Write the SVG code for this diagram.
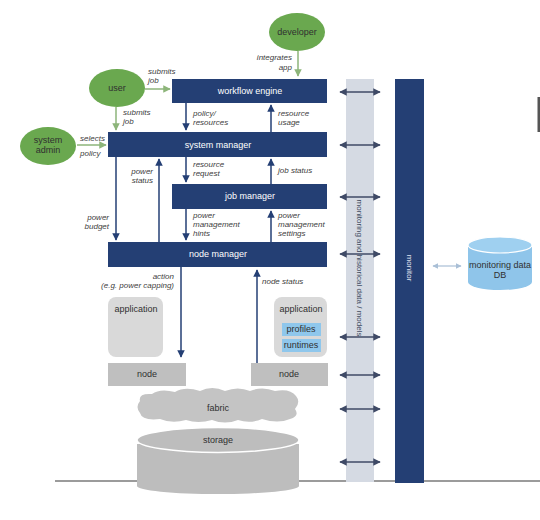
<svg xmlns="http://www.w3.org/2000/svg" width="540" height="520" viewBox="0 0 540 520">
<style>
.navy{fill:#243f74}
.actor{fill:#6aa84f}
.lbl{font-family:"Liberation Sans",Arial,sans-serif;font-size:8px;font-style:italic;fill:#404040}
.wt{font-family:"Liberation Sans",Arial,sans-serif;font-size:9px;fill:#ffffff;text-anchor:middle}
.dt{font-family:"Liberation Sans",Arial,sans-serif;font-size:9px;fill:#303030;text-anchor:middle}
.ln{stroke:#243f74;stroke-width:1.5;fill:none}
.gl{stroke:#8db57a;stroke-width:1.5;fill:none}
.dbl{stroke:#3f4a66;stroke-width:1.5;fill:none}
.gray{fill:#bfbfbf}
.app{fill:#d9d9d9}
.blue{fill:#8fc7ec}
</style>
<defs>
<marker id="a" viewBox="0 0 10 10" refX="9" refY="5" markerWidth="5" markerHeight="5" orient="auto-start-reverse"><path d="M0,0L10,5L0,10z" fill="#243f74"/></marker>
<marker id="g" viewBox="0 0 10 10" refX="9" refY="5" markerWidth="5" markerHeight="5" orient="auto-start-reverse"><path d="M0,0L10,5L0,10z" fill="#8db57a"/></marker>
<marker id="d" viewBox="0 0 10 10" refX="9" refY="5" markerWidth="5" markerHeight="5" orient="auto-start-reverse"><path d="M0,0L10,5L0,10z" fill="#3f4a66"/></marker>
<marker id="l" viewBox="0 0 10 10" refX="9" refY="5" markerWidth="5" markerHeight="5" orient="auto-start-reverse"><path d="M0,0L10,5L0,10z" fill="#a9bfd6"/></marker>
</defs>
<rect width="540" height="520" fill="#ffffff"/>
<line x1="55" y1="481" x2="540" y2="481" stroke="#7a7a7a" stroke-width="1.5"/>
<rect x="537.5" y="97" width="2.5" height="35" fill="#555555"/>

<g id="band"><rect x="346" y="79" width="28" height="403" fill="#d5dae3"/>
<text transform="translate(357,268) rotate(90)" font-family="Liberation Sans,Arial,sans-serif" font-size="8" fill="#404a60" text-anchor="middle">monitoring and historical data / models</text></g>
<g id="monitor"><rect x="395" y="79" width="29" height="404" class="navy"/>
<text transform="translate(407,268) rotate(90)" font-family="Liberation Sans,Arial,sans-serif" font-size="8" fill="#e0e6f0" text-anchor="middle">monitor</text></g>

<g id="developer"><ellipse cx="297" cy="32" rx="28" ry="19" class="actor"/><text x="297" y="35" class="dt" font-size="8.5">developer</text></g>
<g id="user"><ellipse cx="117" cy="88" rx="28" ry="19" class="actor"/><text x="117" y="91" class="dt" font-size="8.5">user</text></g>
<g id="sysadmin"><ellipse cx="48" cy="146" rx="28" ry="19" class="actor"/><text x="48" y="143" class="dt" font-size="8.5">system</text><text x="48" y="153" class="dt" font-size="8.5">admin</text></g>

<g id="workflow"><rect x="172" y="79" width="155" height="24" class="navy"/><text x="250" y="94" class="wt">workflow engine</text></g>
<g id="sysmgr"><rect x="108" y="132" width="219" height="25" class="navy"/><text x="218" y="148" class="wt">system manager</text></g>
<g id="jobmgr"><rect x="172" y="184" width="155" height="25" class="navy"/><text x="250" y="199" class="wt">job manager</text></g>
<g id="nodemgr"><rect x="108" y="242" width="219" height="25" class="navy"/><text x="218" y="257" class="wt">node manager</text></g>

<g id="app1"><rect x="108" y="297" width="55" height="60" rx="8" class="app"/><text x="136" y="312" class="dt" font-size="8">application</text></g>
<g id="app2"><rect x="274" y="297" width="53" height="60" rx="8" class="app"/><text x="301" y="312" class="dt" font-size="8">application</text>
<rect x="282" y="323" width="39" height="13" class="blue"/><text x="301" y="332" class="dt" font-size="8" fill="#2a3a5a">profiles</text>
<rect x="282" y="339" width="39" height="13" class="blue"/><text x="301" y="348" class="dt" font-size="8" fill="#2a3a5a">runtimes</text></g>
<g id="node1"><rect x="108" y="363" width="78" height="23" class="gray"/><text x="147" y="377" class="dt" font-size="8">node</text></g>
<g id="node2"><rect x="251" y="363" width="77" height="23" class="gray"/><text x="289" y="377" class="dt" font-size="8">node</text></g>
<g id="fabric"><path d="M140,401 Q138,393 152,394 Q160,388 175,392 Q185,386 200,391 Q212,385 225,391 Q238,386 250,391 Q262,386 275,391 Q290,388 296,396 Q301,402 295,409 Q300,416 290,419 Q278,424 262,419 Q250,424 238,420 Q225,425 212,420 Q198,424 186,420 Q172,424 160,419 Q142,421 140,413 Q135,407 140,401 Z" fill="#c4c4c4"/><text x="218" y="411" class="dt" font-size="8">fabric</text></g>
<g id="storage"><path d="M137,444 L137,486 A81,8 0 0 0 299,486 L299,444 Z" fill="#bdbdbd"/><ellipse cx="218" cy="440" rx="81" ry="12.5" fill="#bdbdbd" stroke="#ffffff" stroke-width="1.5"/><text x="218" y="443" class="dt" font-size="8.5">storage</text></g>
<g id="db"><path d="M468,245 L468,282 A32,8 0 0 0 532,282 L532,245 Z" fill="#8fc5ea"/><ellipse cx="500" cy="245" rx="32" ry="8" fill="#9fd0f0" stroke="#ffffff" stroke-width="1.2"/><text x="500" y="268" class="dt" font-size="7.5">monitoring data</text><text x="500" y="278" class="dt" font-size="7.5">DB</text></g>

<g id="connectors">
<line x1="298" y1="51" x2="298" y2="76" class="gl" marker-end="url(#g)"/>
<line x1="145" y1="89" x2="170" y2="89" class="gl" marker-end="url(#g)"/>
<line x1="116" y1="107" x2="116" y2="130" class="gl" marker-end="url(#g)"/>
<line x1="77" y1="145" x2="106" y2="145" class="gl" marker-end="url(#g)"/>
<line x1="186" y1="103" x2="186" y2="130" class="ln" marker-end="url(#a)"/>
<line x1="271" y1="132" x2="271" y2="105" class="ln" marker-end="url(#a)"/>
<line x1="116" y1="157" x2="116" y2="240" class="ln" marker-end="url(#a)"/>
<line x1="159" y1="242" x2="159" y2="159" class="ln" marker-end="url(#a)"/>
<line x1="186" y1="157" x2="186" y2="182" class="ln" marker-end="url(#a)"/>
<line x1="271" y1="184" x2="271" y2="159" class="ln" marker-end="url(#a)"/>
<line x1="186" y1="209" x2="186" y2="240" class="ln" marker-end="url(#a)"/>
<line x1="271" y1="242" x2="271" y2="211" class="ln" marker-end="url(#a)"/>
<line x1="181" y1="267" x2="181" y2="357" class="ln" marker-end="url(#a)"/>
<line x1="257" y1="363" x2="257" y2="270" class="ln" marker-end="url(#a)"/>
<line x1="340" y1="92" x2="380" y2="92" class="dbl" marker-start="url(#d)" marker-end="url(#d)"/>
<line x1="340" y1="145" x2="380" y2="145" class="dbl" marker-start="url(#d)" marker-end="url(#d)"/>
<line x1="340" y1="197" x2="380" y2="197" class="dbl" marker-start="url(#d)" marker-end="url(#d)"/>
<line x1="340" y1="254" x2="380" y2="254" class="dbl" marker-start="url(#d)" marker-end="url(#d)"/>
<line x1="340" y1="337" x2="380" y2="337" class="dbl" marker-start="url(#d)" marker-end="url(#d)"/>
<line x1="340" y1="375" x2="380" y2="375" class="dbl" marker-start="url(#d)" marker-end="url(#d)"/>
<line x1="340" y1="409" x2="380" y2="409" class="dbl" marker-start="url(#d)" marker-end="url(#d)"/>
<line x1="340" y1="462" x2="380" y2="462" class="dbl" marker-start="url(#d)" marker-end="url(#d)"/>
<line x1="433" y1="266" x2="461" y2="266" stroke="#a9bfd6" stroke-width="1.2" marker-start="url(#l)" marker-end="url(#l)"/>
</g>

<g id="labels">
<text x="292" y="60" class="lbl" text-anchor="end">integrates</text>
<text x="292" y="70" class="lbl" text-anchor="end">app</text>
<text x="148" y="74" class="lbl">submits</text>
<text x="148" y="83" class="lbl">job</text>
<text x="123" y="115" class="lbl">submits</text>
<text x="123" y="124" class="lbl">job</text>
<text x="80" y="141" class="lbl">selects</text>
<text x="80" y="156" class="lbl">policy</text>
<text x="193" y="116" class="lbl">policy/</text>
<text x="193" y="125" class="lbl">resources</text>
<text x="278" y="116" class="lbl">resource</text>
<text x="278" y="125" class="lbl">usage</text>
<text x="153" y="174" class="lbl" text-anchor="end">power</text>
<text x="153" y="183" class="lbl" text-anchor="end">status</text>
<text x="193" y="167" class="lbl">resource</text>
<text x="193" y="176" class="lbl">request</text>
<text x="278" y="173" class="lbl">job status</text>
<text x="109" y="220" class="lbl" text-anchor="end">power</text>
<text x="109" y="229" class="lbl" text-anchor="end">budget</text>
<text x="193" y="218" class="lbl">power</text>
<text x="193" y="227" class="lbl">management</text>
<text x="193" y="236" class="lbl">hints</text>
<text x="278" y="218" class="lbl">power</text>
<text x="278" y="227" class="lbl">management</text>
<text x="278" y="236" class="lbl">settings</text>
<text x="174" y="279" class="lbl" text-anchor="end">action</text>
<text x="174" y="288" class="lbl" text-anchor="end">(e.g. power capping)</text>
<text x="262" y="284" class="lbl">node status</text>
</g>
</svg>
